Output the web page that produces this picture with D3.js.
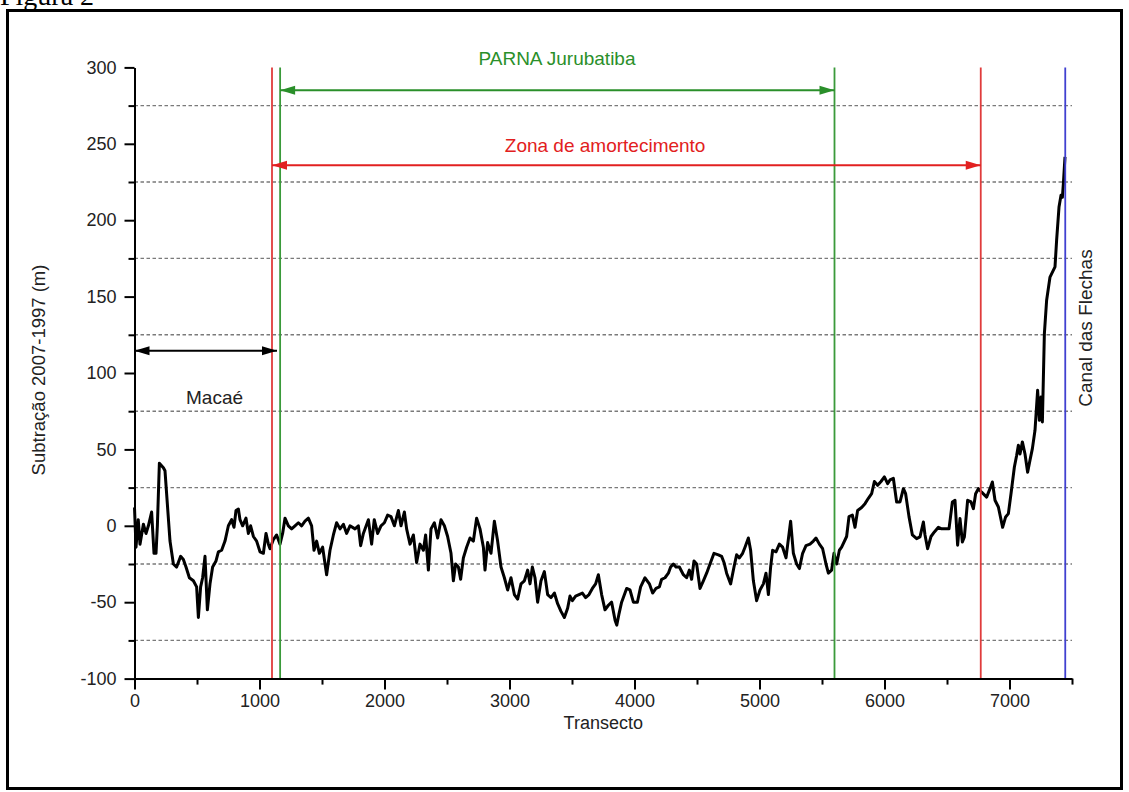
<!DOCTYPE html>
<html>
<head>
<meta charset="utf-8">
<script src="https://d3js.org/d3.v7.min.js"></script>
<style>
  body { margin: 0; background: #fff; }
  svg { display: block; }
  text { font-family: "Liberation Sans", Arial, sans-serif; }
</style>
</head>
<body>
<svg id="canvas" width="1129" height="792"></svg>
<script>

// transect position (m) and subtraction 2007-1997 (m)
const transecto = [0, 12, 30, 44, 71, 92, 111, 137, 156, 172, 183, 199, 231, 244, 263, 284, 311, 337, 369, 391,
  412, 439, 471, 497, 511, 529, 545, 564, 583, 604, 625, 652, 671, 697, 724, 751, 777, 796, 812, 831,
  844, 865, 892, 911, 929, 951, 977, 1004, 1031, 1052, 1071, 1084, 1111, 1137, 1164, 1185, 1204, 1231, 1257, 1284,
  1311, 1337, 1364, 1391, 1417, 1436, 1457, 1479, 1505, 1537, 1564, 1591, 1617, 1644, 1671, 1697, 1724, 1764, 1791, 1809,
  1831, 1871, 1897, 1918, 1945, 1972, 1999, 2025, 2052, 2079, 2111, 2132, 2159, 2177, 2204, 2231, 2257, 2284, 2311, 2329,
  2351, 2372, 2399, 2425, 2452, 2479, 2505, 2532, 2551, 2569, 2591, 2609, 2631, 2657, 2684, 2711, 2737, 2764, 2791, 2804,
  2825, 2852, 2879, 2905, 2932, 2959, 2985, 3012, 3039, 3065, 3092, 3119, 3145, 3164, 3183, 3204, 3225, 3252, 3279, 3305,
  3332, 3359, 3385, 3412, 3439, 3465, 3484, 3503, 3529, 3556, 3583, 3609, 3636, 3663, 3689, 3711, 3737, 3764, 3791, 3817,
  3845, 3858, 3875, 3897, 3937, 3964, 3991, 4023, 4049, 4084, 4119, 4145, 4172, 4199, 4217, 4244, 4271, 4289, 4311, 4332,
  4359, 4391, 4417, 4439, 4457, 4476, 4497, 4524, 4551, 4577, 4604, 4636, 4671, 4697, 4716, 4737, 4769, 4796, 4817, 4839,
  4865, 4884, 4911, 4929, 4951, 4977, 5004, 5031, 5052, 5071, 5089, 5105, 5132, 5159, 5185, 5212, 5249, 5271, 5297, 5319,
  5345, 5372, 5404, 5431, 5452, 5479, 5505, 5532, 5551, 5577, 5596, 5617, 5639, 5657, 5697, 5716, 5743, 5764, 5785, 5817,
  5844, 5871, 5897, 5919, 5945, 5972, 5999, 6025, 6044, 6071, 6097, 6124, 6151, 6169, 6196, 6223, 6257, 6284, 6311, 6324,
  6345, 6372, 6399, 6431, 6457, 6489, 6516, 6543, 6564, 6585, 6604, 6623, 6639, 6665, 6692, 6711, 6729, 6751, 6777, 6817,
  6844, 6863, 6884, 6911, 6945, 6969, 6991, 7012, 7039, 7057, 7071, 7084, 7103, 7124, 7145, 7164, 7183, 7204, 7225, 7239,
  7252, 7263, 7279, 7297, 7324, 7364, 7377, 7396, 7412, 7423, 7431, 7444]

const subtracao = [12, -14, 4, -12, 1, -5, 0, 9, -18, -18, 0, 41, 38, 36, 14, -10, -25, -27, -20, -22,
  -27, -34, -36, -40, -60, -40, -34, -20, -55, -38, -27, -23, -17, -16, -10, 0, 4, -1, 10, 11,
  4, 0, 5, -5, 0, -7, -10, -17, -18, -5, -12, -15, -9, -6, -12, -5, 5, 0, -2, 0,
  2, 0, 3, 5, 0, -16, -10, -18, -14, -32, -16, -6, 2, -2, 1, -5, 0, -2, 0, -13,
  -5, 4, -12, 4, -5, 0, 2, 7, 6, 0, 10, 0, 9, -2, -12, -6, -24, -12, -16, -6,
  -29, -2, 2, -8, 4, 0, -7, -18, -36, -25, -27, -35, -21, -14, -8, -10, 5, -2, -14, -29,
  -11, -18, 3, -10, -27, -34, -42, -34, -45, -48, -38, -36, -29, -38, -27, -34, -50, -36, -30, -45,
  -47, -44, -51, -56, -60, -54, -46, -49, -46, -45, -44, -47, -45, -41, -38, -32, -45, -55, -52, -50,
  -62, -65, -58, -50, -41, -42, -50, -50, -40, -34, -38, -44, -41, -40, -35, -34, -31, -27, -25, -27,
  -27, -32, -34, -29, -35, -23, -25, -41, -36, -31, -25, -18, -19, -20, -24, -31, -38, -27, -19, -21,
  -18, -14, -8, -16, -36, -49, -42, -38, -31, -45, -27, -16, -17, -12, -14, -21, 3, -18, -25, -28,
  -18, -13, -12, -10, -8, -12, -15, -25, -31, -29, -18, -25, -16, -14, -7, 6, 7, -1, 10, 12,
  14.5, 18, 21, 29, 26.5, 29, 32, 27.6, 30, 31, 15.6, 15.6, 24.3, 21, 6, -6, -8.4, -7.3, 2.5, -6,
  -15, -7, -4, -1, -2, -2, -2, 15.6, 16.7, -12.7, 4.7, -10.6, -7.3, 16.7, 15.6, 11.2, 21, 24.3, 22, 18.8,
  24.3, 28.7, 16.7, 12.3, -1, 5.8, 8, 21, 38.5, 46, 52.7, 47, 54.9, 47, 35, 43, 50.5, 62.5, 88.7, 69,
  84.3, 68, 125.8, 147.6, 162.8, 169.4, 187, 208.6, 216.3, 215, 224, 241.4]

const yTicks = [-100, -50, 0, 50, 100, 150, 200, 250, 300]
const yMinor = [-75, -25, 25, 75, 125, 175, 225, 275]
const xTicks = [0, 1000, 2000, 3000, 4000, 5000, 6000, 7000]
const xMinor = [500, 1500, 2500, 3500, 4500, 5500, 6500, 7500]

// section limits along the transect
const limiteMacae = 1100
const limiteParnaIni = 1165
const limiteParnaFim = 5600
const limiteZonaFim = 6770
const canalFlechas = 7446

let canvas = d3.select('#canvas')

const x = d3.scaleLinear().domain([0, 7500]).range([134.5, 1072])
const y = d3.scaleLinear().domain([-100, 300]).range([678.6, 67.4])

// figure frame + caption
canvas.append('text')
      .attr('x', 0).attr('y', 5)
      .style('font-family', '"Liberation Serif", "Times New Roman", serif')
      .style('font-size', '28px')
      .text('Figura 2')

canvas.append('rect')
      .attr('x', 7.5).attr('y', 10.5)
      .attr('width', 1114).attr('height', 778)
      .attr('fill', 'none')
      .attr('stroke', '#000')
      .attr('stroke-width', 3)

// dashed grid at minor y ticks
canvas.selectAll('line.grid')
      .data(yMinor)
      .enter()
      .append('line')
      .attr('class', 'grid')
      .attr('x1', x(0)).attr('x2', x(7500))
      .attr('y1', (d) => y(d)).attr('y2', (d) => y(d))
      .attr('stroke', '#7a7a7a')
      .attr('stroke-width', 1.4)
      .attr('stroke-dasharray', '3.5,2.5')

// data line
const pontos = transecto.map((t, i) => [t, subtracao[i]])
canvas.append('path')
      .datum(pontos)
      .attr('d', d3.line().x((d) => x(d[0])).y((d) => y(d[1])))
      .attr('fill', 'none')
      .attr('stroke', '#000')
      .attr('stroke-width', 3)
      .attr('stroke-linejoin', 'round')

// vertical limit lines
const vline = (v, cor) => {
    canvas.append('line')
          .attr('x1', x(v)).attr('x2', x(v))
          .attr('y1', y(300)).attr('y2', y(-100))
          .attr('stroke', cor)
          .attr('stroke-width', 1.8)
}
vline(limiteMacae, '#e03c3c')
vline(limiteParnaIni, '#3a9a3a')
vline(limiteParnaFim, '#3a9a3a')
vline(limiteZonaFim, '#e03c3c')
vline(canalFlechas, '#4040d0')

// double-headed arrows
const seta = (x1, x2, v, cor, h) => {
    let yy = y(v)
    let a = x(x1), b = x(x2)
    canvas.append('line')
          .attr('x1', a).attr('x2', b)
          .attr('y1', yy).attr('y2', yy)
          .attr('stroke', cor).attr('stroke-width', 2)
    canvas.append('path')
          .attr('d', `M${a},${yy} L${a + 15},${yy - h} L${a + 15},${yy + h} Z`)
          .attr('fill', cor)
    canvas.append('path')
          .attr('d', `M${b},${yy} L${b - 15},${yy - h} L${b - 15},${yy + h} Z`)
          .attr('fill', cor)
}
seta(limiteParnaIni, limiteParnaFim, 285, '#2a8f2a', 4.5)
seta(limiteMacae, limiteZonaFim, 236, '#e22020', 4.5)
seta(0, 1140, 114.5, '#000', 4.5)

const rotulo = (txt, cx, cy, cor) => {
    canvas.append('text')
          .attr('x', cx).attr('y', cy)
          .attr('text-anchor', 'middle')
          .attr('fill', cor)
          .style('font-size', '19px')
          .text(txt)
}
rotulo('PARNA Jurubatiba', x(3380), 65, '#2a8f2a')
rotulo('Zona de amortecimento', x(3765), 152, '#e22020')
rotulo('Macaé', x(640), 404, '#222')

canvas.append('text')
      .attr('transform', `translate(1092,328) rotate(-90)`)
      .attr('text-anchor', 'middle')
      .attr('fill', '#222')
      .style('font-size', '19px')
      .text('Canal das Flechas')

// axes
const fmt = (d) => String(d)
const yAxis = d3.axisLeft(y).tickValues(yTicks).tickSize(10).tickPadding(8).tickSizeOuter(0).tickFormat(fmt)
const yAxisMinor = d3.axisLeft(y).tickValues(yMinor).tickSize(6).tickFormat('')
const xAxis = d3.axisBottom(x).tickValues(xTicks).tickSize(11).tickPadding(5).tickSizeOuter(0).tickFormat(fmt)
const xAxisMinor = d3.axisBottom(x).tickValues(xMinor).tickSize(6).tickFormat('')

canvas.append('g').attr('transform', `translate(${x(0)},0)`).call(yAxis)
canvas.append('g').attr('transform', `translate(${x(0)},0)`).call(yAxisMinor)
  .select('.domain').remove()
canvas.append('g').attr('transform', `translate(0,${y(-100)})`).call(xAxis)
canvas.append('g').attr('transform', `translate(0,${y(-100)})`).call(xAxisMinor)
  .select('.domain').remove()

canvas.selectAll('.tick line, .domain')
      .attr('stroke', '#000')
      .attr('stroke-width', 2)
canvas.selectAll('.tick text')
      .attr('fill', '#222')
      .style('font-family', '"Liberation Sans", Arial, sans-serif')
      .style('font-size', '18px')

canvas.append('text')
      .attr('x', x(3750)).attr('y', 729)
      .attr('text-anchor', 'middle')
      .attr('fill', '#222')
      .style('font-size', '18px')
      .text('Transecto')

canvas.append('text')
      .attr('transform', `translate(45,370) rotate(-90)`)
      .attr('text-anchor', 'middle')
      .attr('fill', '#222')
      .style('font-size', '18.5px')
      .text('Subtração 2007-1997 (m)')

</script>
</body>
</html>
